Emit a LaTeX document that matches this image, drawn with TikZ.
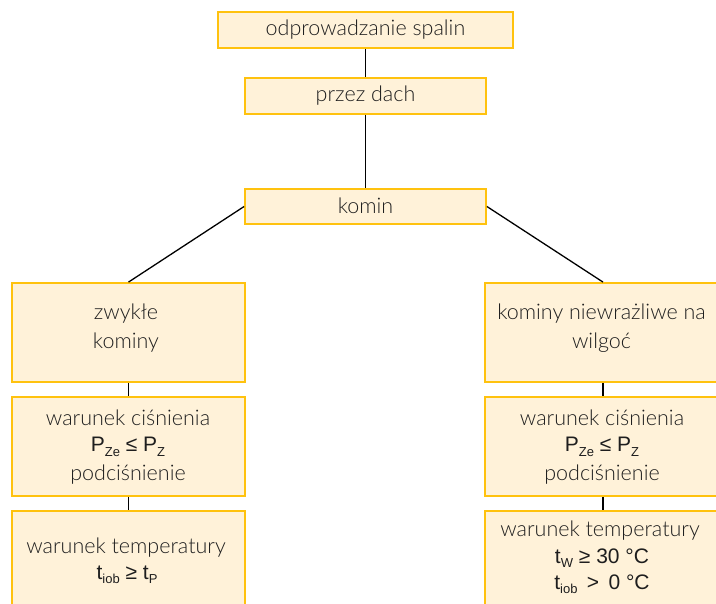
\documentclass[tikz,border=0pt]{standalone}
\usepackage{fontspec}
\setmainfont{Lato Light}
\newfontfamily\mathf{Liberation Sans}
\definecolor{boxfill}{HTML}{FFF2D9}
\definecolor{boxedge}{HTML}{FFC20E}
\definecolor{txt}{HTML}{1E1E1E}
\newcommand{\sbs}[1]{\raisebox{-0.4ex}{\fontsize{13}{13}\selectfont #1}}
\tikzset{
  box/.style={draw=boxedge, fill=boxfill, line width=1.8pt, rectangle, inner sep=0pt},
  conn/.style={draw=black, line width=1.3pt},
  lbl/.style={text=txt, font=\fontsize{21.5}{28}\selectfont, align=center, inner sep=0pt},
  mth/.style={text=txt, font=\mathf\fontsize{21}{26}\selectfont, align=center, inner sep=0pt}
}
\begin{document}
\begin{tikzpicture}[x=1pt,y=-1pt]
\useasboundingbox (0,0) rectangle (716,604);
\begin{scope}
\clip (0,0) rectangle (716,604);
% top chain
\node[box, minimum width=295, minimum height=36] (t1) at (365.5,30) {};
\node[box, minimum width=241, minimum height=36] (t2) at (365.5,96) {};
\node[box, minimum width=241, minimum height=35] (t3) at (365.5,206.5) {};
% left column
\node[box, minimum width=233, minimum height=99] (l1) at (128.5,332.5) {};
\node[box, minimum width=233, minimum height=99] (l2) at (128.5,446.5) {};
\node[box, minimum width=233, minimum height=130] (l3) at (128.5,576) {};
% right column
\node[box, minimum width=236, minimum height=99] (r1) at (603,332.5) {};
\node[box, minimum width=236, minimum height=99] (r2) at (603,446.5) {};
\node[box, minimum width=236, minimum height=130] (r3) at (603,576) {};
\end{scope}
% connectors
\draw[conn] (t1.south) -- (t2.north);
\draw[conn] (t2.south) -- (t3.north);
\draw[conn] (t3.west) -- (l1.north);
\draw[conn] (t3.east) -- (r1.north);
\draw[conn] (l1.south) -- (l2.north);
\draw[conn] (l2.south) -- (l3.north);
\draw[conn] (r1.south) -- (r2.north);
\draw[conn] (r2.south) -- (r3.north);
% texts
\node[lbl] (t1t) at (365.5,29.5) {odprowadzanie spalin};
\node[lbl] (t2t) at (365.5,96) {przez dach};
\node[lbl] (t3t) at (365.5,206) {komin};
\node[lbl] (l1a) at (126,314) {zwykłe};
\node[lbl] (l1b) at (126,343) {kominy};
\node[lbl] (r1a) at (601.5,314) {kominy niewrażliwe na};
\node[lbl] (r1b) at (601.5,343) {wilgoć};
\node[lbl] (l2a) at (128,418) {warunek ciśnienia};
\node[mth] (l2b) at (128,447) {P\sbs{Ze} ≤ P\sbs{Z}};
\node[lbl] (l2c) at (128,475) {podciśnienie};
\node[lbl] (r2a) at (602,418) {warunek ciśnienia};
\node[mth] (r2b) at (602,447) {P\sbs{Ze} ≤ P\sbs{Z}};
\node[lbl] (r2c) at (602,475) {podciśnienie};
\node[lbl] (l3a) at (126,548) {warunek temperatury};
\node[mth] (l3b) at (127,575) {t\sbs{iob} ≥ t\sbs{P}};
\node[lbl] (r3a) at (600,531) {warunek temperatury};
\node[mth] (r3b) at (602,558) {t\sbs{W} ≥ 30 °C};
\node[mth] (r3c) at (602,584) {t\sbs{iob} \,>\, 0 °C};
\end{tikzpicture}
\end{document}
